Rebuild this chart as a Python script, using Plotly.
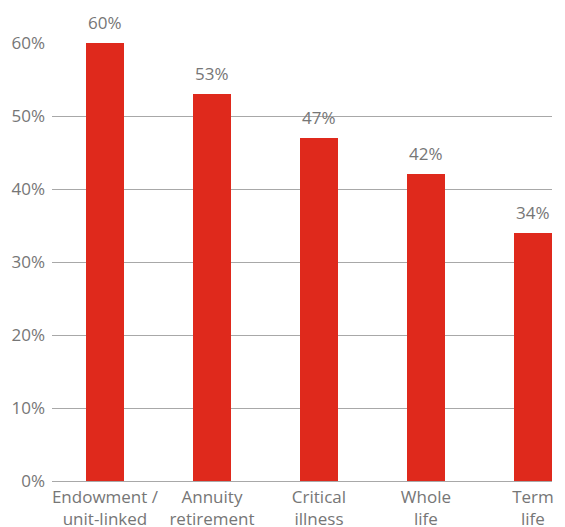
import plotly.graph_objects as go

categories = ["Endowment /<br>unit-linked", "Annuity<br>retirement", "Critical<br>illness", "Whole<br>life", "Term<br>life"]
values = [60, 53, 47, 42, 34]
y_ticks = [0, 10, 20, 30, 40, 50, 60]
y_tick_labels = [f"{t}%" for t in y_ticks]

x_idx = list(range(len(categories)))
fig = go.Figure(go.Bar(
    x=x_idx, y=values, width=0.355,
    marker=dict(color="#df291c", line=dict(width=0)),
    cliponaxis=False,
))
for xi, v in zip(x_idx, values):
    fig.add_annotation(x=xi, y=v, text=f"{v}%", showarrow=False,
                       yanchor="bottom", yshift=7,
                       font=dict(size=17, color="#767676"))
fig.update_layout(
    width=565, height=527,
    margin=dict(l=52, r=13, t=43, b=46, autoexpand=False),
    paper_bgcolor="white", plot_bgcolor="white",
    font=dict(family="Open Sans, Noto Sans, sans-serif", size=17, color="#767676"),
    showlegend=False,
    bargap=0,
)
fig.update_xaxes(
    tickmode="array", tickvals=x_idx, ticktext=categories,
    range=[-0.495, 4.178], showgrid=False, showline=False, ticks="",
    tickfont=dict(size=17, color="#767676"), automargin=False,
    ticklabelstandoff=4,
)
fig.update_yaxes(
    range=[0, 60], tickmode="array", tickvals=y_ticks, ticktext=y_tick_labels,
    showgrid=True, gridcolor="#a8a8a8", gridwidth=1.3,
    zeroline=True, zerolinecolor="#a8a8a8", zerolinewidth=1.3,
    ticks="", tickfont=dict(size=17, color="#767676"), ticklabelstandoff=6,
    automargin=False,
)
fig.write_html("out.html")
